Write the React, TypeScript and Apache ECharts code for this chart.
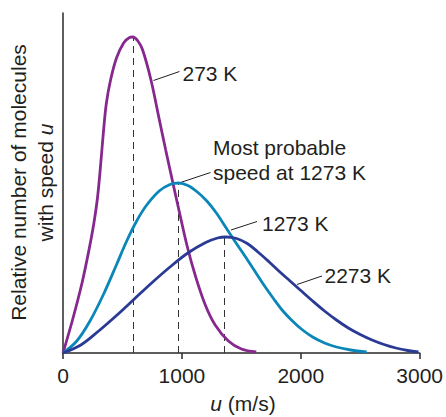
import React, { useEffect, useRef } from "react";
import * as echarts from "echarts";

// Speed u (m/s) vs relative number of molecules (arbitrary units)
const curve273K: [number, number][] = [
  [0, 0], [80, 33], [160, 70], [220, 104], [260, 130], [290, 155], [315, 186],
  [340, 221], [365, 250], [400, 273], [450, 295], [510, 310], [560, 315.5], [587, 316],
  [630, 312], [670, 303], [740, 273], [809, 234], [864, 203], [919, 173],
  [975, 143], [1044, 107], [1114, 77], [1197, 48], [1280, 28], [1391, 12],
  [1501, 4], [1626, 1],
];
const curve1273K: [number, number][] = [
  [0, 0], [116, 12], [227, 32], [338, 58], [449, 88], [532, 111], [615, 131],
  [698, 147], [809, 162], [900, 168.5], [973, 170], [1050, 167.5], [1130, 161],
  [1210, 152], [1290, 140], [1370, 125.5], [1450, 111], [1530, 97], [1610, 82.5],
  [1690, 68], [1770, 54.5], [1850, 42], [1930, 32], [2010, 23.5], [2100, 16],
  [2200, 10], [2300, 6], [2420, 3], [2554, 1],
];
const curve2273K: [number, number][] = [
  [0, 0], [150, 8], [300, 22], [450, 37.5], [600, 54], [750, 70.5], [900, 86],
  [1050, 100], [1200, 110.5], [1300, 115], [1370, 116], [1460, 114.5],
  [1550, 109.5], [1640, 101], [1730, 91.5], [1820, 81.5], [1910, 72], [2000, 62.5],
  [2100, 52], [2200, 42], [2300, 33], [2400, 25], [2500, 18.5], [2600, 13],
  [2700, 8.5], [2800, 5], [2900, 2.5], [2990, 1],
];
const mostProbableSpeeds = [587, 973, 1360];
const peakValues = [316, 170, 116];
const xTickValues = [0, 1000, 2000, 3000];
const curveLabels = ["273 K", "1273 K", "2273 K"];

const FONT = "'Liberation Sans', Arial, Helvetica, sans-serif";
const AXIS_COLOR = "#2a2a2a";
const TEXT_COLOR = "#231f20";
const COLORS = ["#86288e", "#0a87b8", "#2b3a94"];

export default function App() {
  const ref = useRef<HTMLDivElement>(null);
  useEffect(() => {
    if (!ref.current) return;
    const chart = echarts.init(ref.current, null, { renderer: "svg" });
    const curves = [curve273K, curve1273K, curve2273K];
    const dashStyle = { type: [7, 5] as any, color: "#333", width: 1 };
    const series = curves.map((c, i) => ({
      name: curveLabels[i],
      type: "line",
      data: c,
      smooth: 0.35,
      showSymbol: false,
      symbol: "none",
      lineStyle: { color: COLORS[i], width: 2.8 },
      itemStyle: { color: COLORS[i] },
      z: 3,
      markLine: {
        silent: true,
        symbol: ["none", "none"],
        label: { show: false },
        lineStyle: dashStyle,
        z: 1,
        data: [[{ coord: [mostProbableSpeeds[i], 0] }, { coord: [mostProbableSpeeds[i], peakValues[i]] }]],
      },
    }));

    const txt = (x: number, y: number, text: string, extra: any = {}) => ({
      type: "text",
      x,
      y,
      style: {
        text,
        fill: TEXT_COLOR,
        fontSize: 21,
        fontFamily: FONT,
        textAlign: "left",
        textVerticalAlign: "middle",
        ...extra,
      },
    });
    const ln = (x1: number, y1: number, x2: number, y2: number) => ({
      type: "line",
      shape: { x1, y1, x2, y2 },
      style: { stroke: TEXT_COLOR, lineWidth: 1 },
    });

    const option: any = {
      animation: false,
      grid: { left: 63, right: 23, top: 13, bottom: 64 },
      xAxis: {
        type: "value",
        min: xTickValues[0],
        max: xTickValues[xTickValues.length - 1],
        interval: 1000,
        axisLine: { lineStyle: { color: AXIS_COLOR, width: 1.5 } },
        axisTick: { show: true, length: 6, lineStyle: { color: AXIS_COLOR, width: 1.5 } },
        axisLabel: {
          fontSize: 21,
          color: TEXT_COLOR,
          fontFamily: FONT,
          margin: 12,
          formatter: (v: number) => String(v),
        },
        splitLine: { show: false },
      },
      yAxis: {
        type: "value",
        min: 0,
        max: 340,
        axisLine: { show: true, lineStyle: { color: AXIS_COLOR, width: 1.5 } },
        axisTick: { show: false },
        axisLabel: { show: false },
        splitLine: { show: false },
      },
      series,
      graphic: [
        ln(153.5, 80.5, 179.5, 71.5),
        txt(182.5, 73.5, curveLabels[0]),
        ln(179, 183, 210.5, 172.5),
        txt(213, 147, "Most probable"),
        txt(213, 172, "speed at 1273 K"),
        ln(231, 230, 257, 221.5),
        txt(262, 223, curveLabels[1]),
        ln(297, 284.5, 322, 276),
        txt(324.5, 275, curveLabels[2]),
        {
          type: "text",
          x: 243,
          y: 403,
          style: {
            text: "{i|u} (m/s)",
            fill: TEXT_COLOR,
            fontSize: 21,
            fontFamily: FONT,
            textAlign: "center",
            textVerticalAlign: "middle",
            rich: { i: { fontStyle: "italic", fontSize: 21, fontFamily: FONT, fill: TEXT_COLOR } },
          },
        },
        {
          type: "text",
          x: 18.5,
          y: 182.5,
          rotation: Math.PI / 2,
          style: {
            text: "Relative number of molecules",
            fill: TEXT_COLOR,
            fontSize: 21,
            fontFamily: FONT,
            textAlign: "center",
            textVerticalAlign: "middle",
          },
        },
        {
          type: "text",
          x: 45,
          y: 182.5,
          rotation: Math.PI / 2,
          style: {
            text: "with speed {i|u}",
            fill: TEXT_COLOR,
            fontSize: 21,
            fontFamily: FONT,
            textAlign: "center",
            textVerticalAlign: "middle",
            rich: { i: { fontStyle: "italic", fontSize: 21, fontFamily: FONT, fill: TEXT_COLOR } },
          },
        },
      ],
    };
    chart.setOption(option);
    return () => chart.dispose();
  }, []);
  return (
    <div
      ref={ref}
      style={{ position: "fixed", left: 0, top: 0, width: 446, height: 417, background: "#fff" }}
    />
  );
}
